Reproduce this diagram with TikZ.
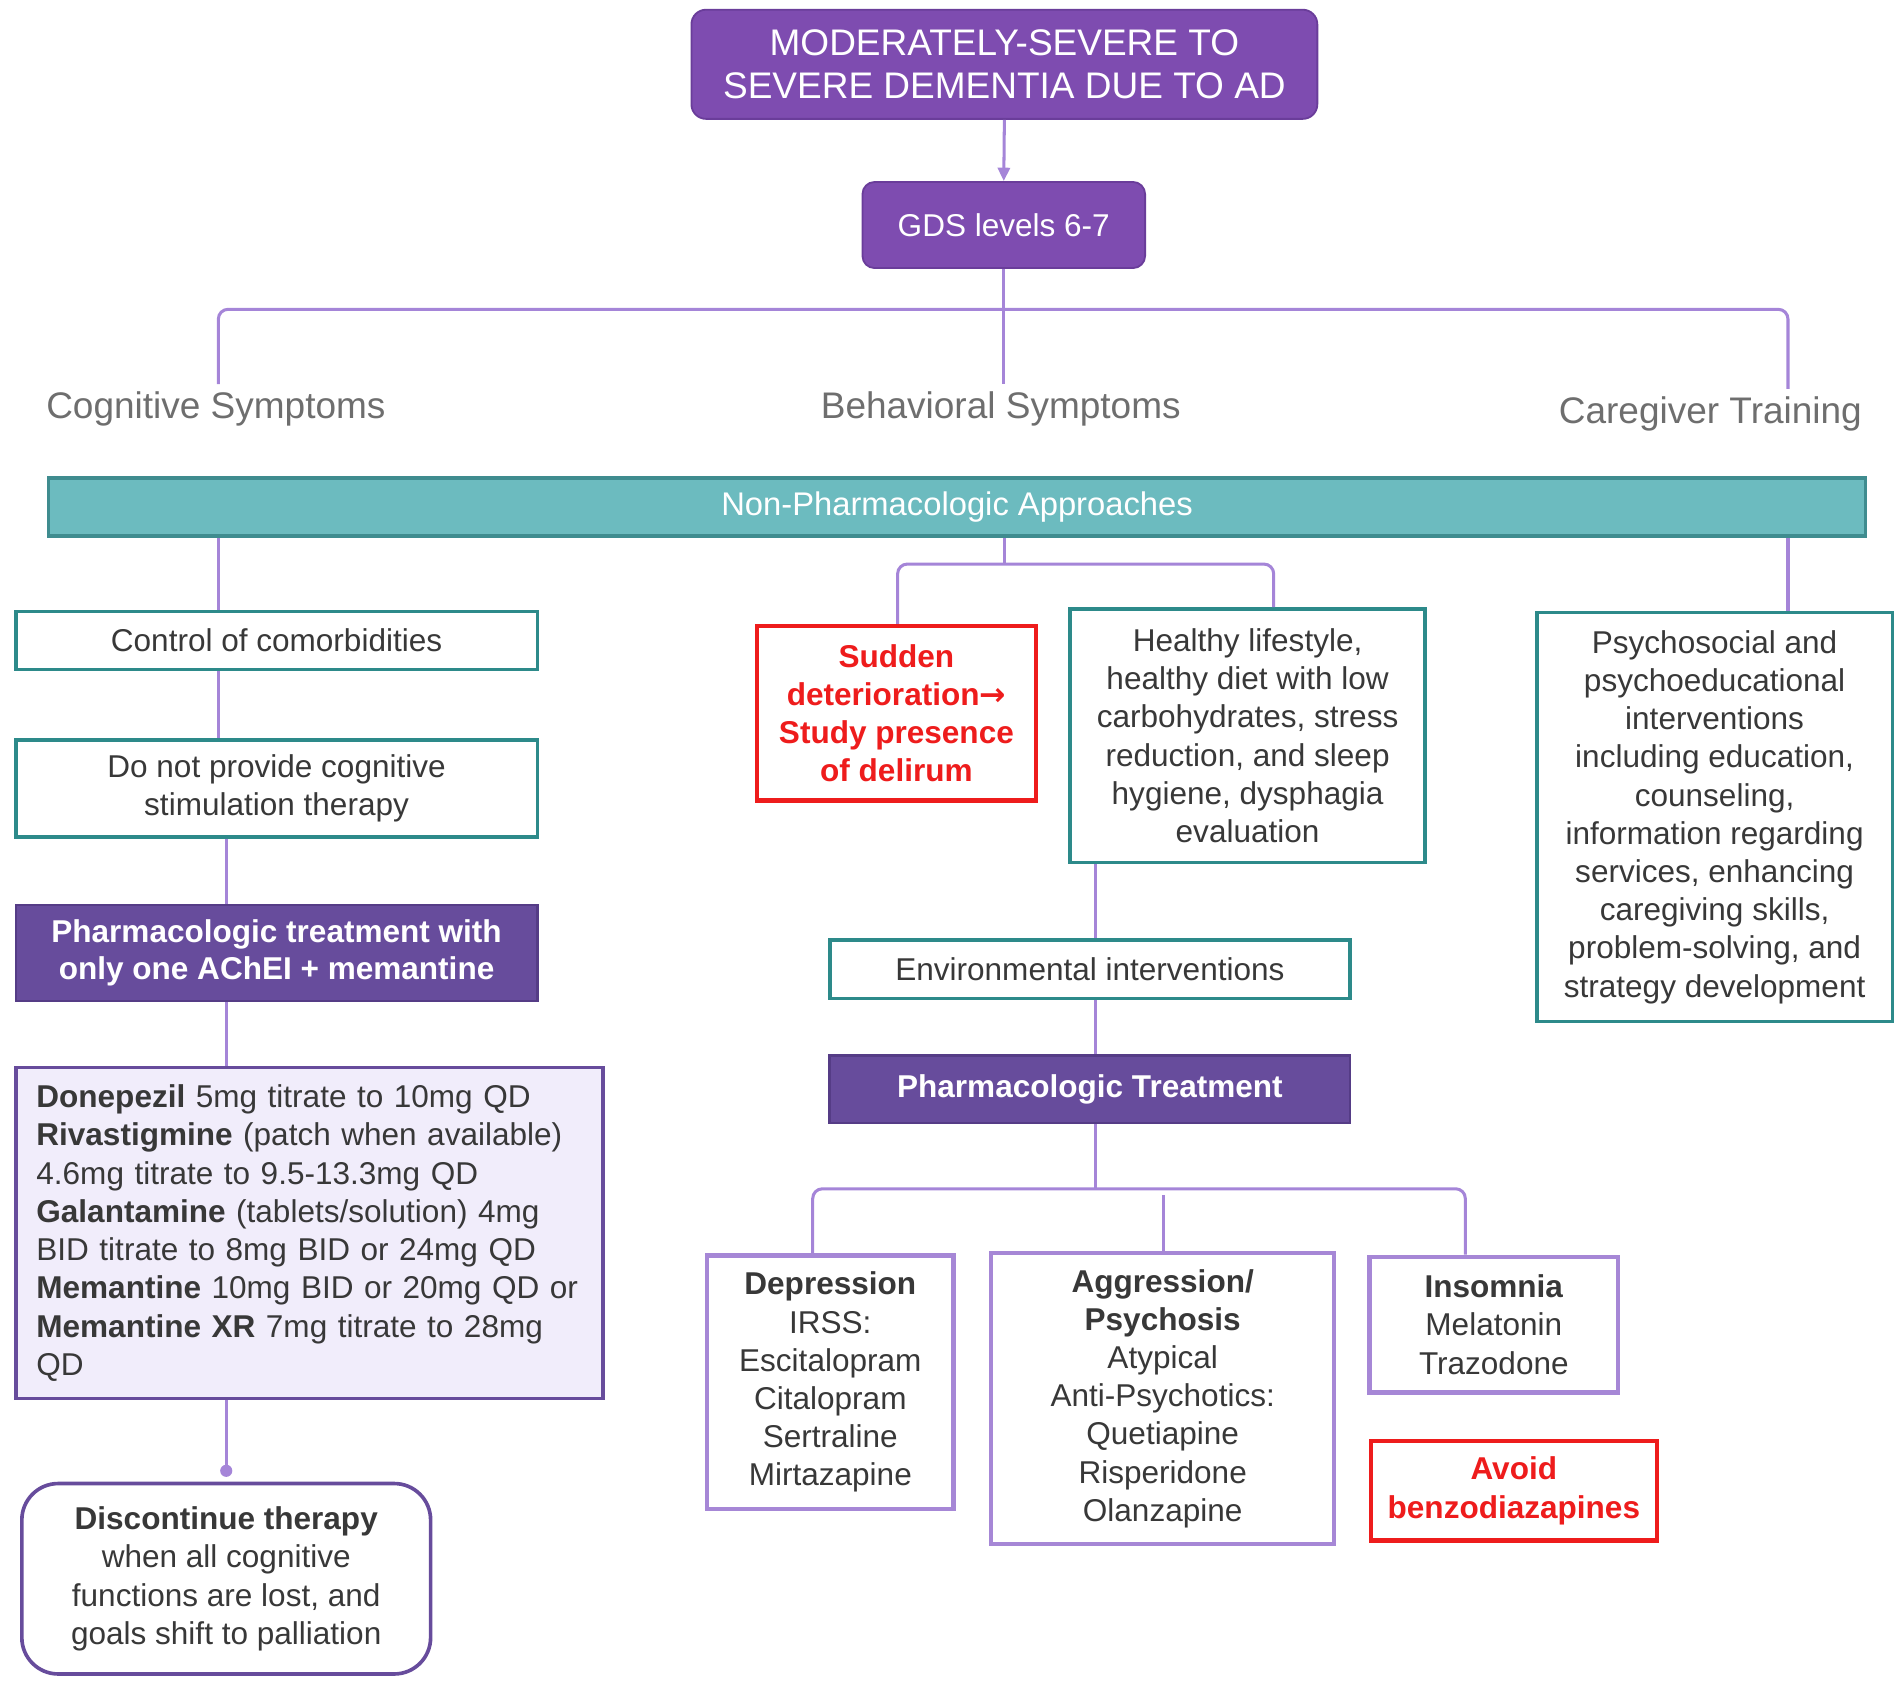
\documentclass[tikz,border=0pt]{standalone}
\usepackage{fontspec}
\setmainfont{Liberation Sans}
\newfontfamily\djv{DejaVu Sans}
\usetikzlibrary{arrows.meta}
\definecolor{toppurp}{HTML}{7E4CB0}
\definecolor{toppurpb}{HTML}{6A3D9A}
\definecolor{dpurp}{HTML}{674C9C}
\definecolor{dpurpb}{HTML}{553C86}
\definecolor{connc}{HTML}{A585D8}
\definecolor{lpurpb}{HTML}{A687D6}
\definecolor{tealfill}{HTML}{6CBBBF}
\definecolor{tealbar}{HTML}{3F8C8F}
\definecolor{tealb}{HTML}{2D8A8A}
\definecolor{redc}{HTML}{EE1C1C}
\definecolor{lav}{HTML}{F1EDFB}
\definecolor{graylab}{HTML}{6E6E6E}
\definecolor{txt}{HTML}{383838}
\begin{document}
\begin{tikzpicture}[x=1pt,y=-1pt,
  base/.style={inner sep=0pt, align=center, font=\fontsize{26}{31.5}\selectfont, text=txt},
  tealbox/.style={base, draw=tealb, line width=3pt, fill=white},
  purpbox/.style={base, draw=lpurpb, line width=3.5pt, fill=white},
  redbox/.style={base, draw=redc, line width=3.5pt, fill=white, text=redc, font=\fontsize{26}{31.5}\selectfont\bfseries},
  darkbox/.style={base, fill=dpurp, draw=dpurpb, line width=2pt, text=white, font=\fontsize{26}{30}\selectfont\bfseries},
  topbox/.style={base, fill=toppurp, draw=toppurpb, line width=1.5pt, text=white},
  lab/.style={inner sep=0pt, inner ysep=6pt, font=\fontsize{30.5}{36}\selectfont, text=graylab},
  conn/.style={draw=connc, line width=2.5pt, rounded corners=8pt}
]
\useasboundingbox (0,0) rectangle (1568,1390);

% top
\node[topbox, rounded corners=12pt, minimum width=516pt, minimum height=90pt,
  font=\fontsize{30.5}{36}\selectfont] (title) at (828,53)
  {MODERATELY-SEVERE TO\\SEVERE DEMENTIA DUE TO AD};
\node[topbox, rounded corners=10pt, minimum width=233pt, minimum height=71pt] (gds) at (827.5,185.5) {GDS levels 6-7};

% labels
\node[lab] (cog) at (178,337) {Cognitive Symptoms};
\node[lab] (beh) at (825,337) {Behavioral Symptoms};
\node[lab] (care) at (1410,341) {Caregiver Training};

% bar
\node[base, fill=tealfill, draw=tealbar, line width=3pt, minimum width=1498pt, minimum height=48pt,
  text=white, font=\fontsize{27}{31}\selectfont] (np) at (789,418) {\raisebox{-2pt}{Non-Pharmacologic Approaches}};

% left column
\node[tealbox, minimum width=430pt, minimum height=48pt] (ctrl) at (228,528) {Control of comorbidities};
\node[tealbox, minimum width=430pt, minimum height=80pt] (donot) at (228,650) {Do not provide cognitive\\stimulation therapy};
\node[darkbox, minimum width=430pt, minimum height=79pt] (pharmA) at (228,785.5) {Pharmacologic treatment with\\only one AChEI + memantine};
\node[base, fill=lav, draw=dpurp, line width=3pt, minimum width=484pt, minimum height=273pt,
  text width=450pt, align=left] (drugs) at (255,1016.5)
  {\textbf{Donepezil} 5mg titrate to 10mg QD\\
   \textbf{Rivastigmine} (patch when available)\\
   4.6mg titrate to 9.5-13.3mg QD\\
   \textbf{Galantamine} (tablets/solution) 4mg\\
   BID titrate to 8mg BID or 24mg QD\\
   \textbf{Memantine} 10mg BID or 20mg QD or\\
   \textbf{Memantine XR} 7mg titrate to 28mg\\
   QD};
\node[base, draw=dpurp, line width=3pt, fill=white, rounded corners=30pt, minimum width=337pt, minimum height=157pt] (disc) at (186.5,1301.5)
  {\textbf{Discontinue therapy}\\when all cognitive\\functions are lost, and\\goals shift to palliation};

% middle column
\node[redbox, minimum width=230pt, minimum height=144pt] (sudden) at (739,588)
  {Sudden\\deterioration{\djv\bfseries →}\\Study presence\\of delirum};
\node[tealbox, minimum width=293pt, minimum height=209pt] (healthy) at (1028.5,606.5)
  {Healthy lifestyle,\\healthy diet with low\\carbohydrates, stress\\reduction, and sleep\\hygiene, dysphagia\\evaluation};
\node[tealbox, minimum width=429pt, minimum height=48pt] (env) at (898.5,799) {Environmental interventions};
\node[darkbox, minimum width=429pt, minimum height=56pt] (pharmB) at (898.5,898) {Pharmacologic Treatment};

\node[purpbox, minimum width=203pt, minimum height=209pt] (dep) at (684.5,1139.5)
  {\textbf{Depression}\\IRSS:\\Escitalopram\\Citalopram\\Sertraline\\Mirtazapine};
\node[purpbox, minimum width=283pt, minimum height=240pt] (agg) at (958.5,1153)
  {\textbf{Aggression/}\\\textbf{Psychosis}\\Atypical\\Anti-Psychotics:\\Quetiapine\\Risperidone\\Olanzapine};
\node[purpbox, minimum width=205pt, minimum height=112pt] (ins) at (1231.5,1092)
  {\textbf{Insomnia}\\Melatonin\\Trazodone};
\node[redbox, minimum width=236pt, minimum height=82pt] (avoid) at (1248,1229)
  {Avoid\\benzodiazapines};

% right column
\node[tealbox, minimum width=293pt, minimum height=337pt] (psy) at (1413.5,673.5)
  {Psychosocial and\\psychoeducational\\interventions\\including education,\\counseling,\\information regarding\\services, enhancing\\caregiving skills,\\problem-solving, and\\strategy development};

% connectors
\draw[conn, -{Triangle[length=11pt,width=10pt]}, rounded corners=0pt] (title.south) -- (gds.north);
\coordinate (bus) at (828,255);
\coordinate (cogx) at (180,255);
\coordinate (carex) at (1474,255);
\draw[conn] (gds.south) -- (gds.south |- beh.north);
\draw[conn] (cogx |- cog.north) -- (cogx) -- (carex) -- (carex |- care.north);

\draw[conn] (np.south -| cogx) -- (ctrl.north -| cogx);
\coordinate (nbc) at (828,465);
\coordinate (nbl) at (740,465);
\coordinate (nbr) at (1050,465);
\draw[conn] (np.south -| nbc) -- (nbc);
\draw[conn] (sudden.north -| nbl) -- (nbl) -- (nbr) -- (healthy.north -| nbr);
\draw[conn] (np.south -| carex) -- (psy.north -| carex);

\draw[conn] (ctrl.south -| cogx) -- (donot.north -| cogx);
\coordinate (lax) at (187,700);
\draw[conn] (donot.south -| lax) -- (pharmA.north -| lax);
\draw[conn] (pharmA.south -| lax) -- (drugs.north -| lax);
\coordinate (dot) at ([yshift=9pt]disc.north);
\draw[conn] (drugs.south -| dot) -- (dot);
\fill[connc] (dot) circle (5pt);

\coordinate (max) at (903,700);
\draw[conn] (healthy.south -| max) -- (env.north -| max);
\draw[conn] (env.south -| max) -- (pharmB.north -| max);
\coordinate (tb) at (903,980);
\coordinate (tl) at (670,980);
\coordinate (tr) at (1208,980);
\coordinate (tm) at (959,985);
\draw[conn] (pharmB.south -| tb) -- (tb);
\draw[conn] (dep.north -| tl) -- (tl) -- (tr) -- (ins.north -| tr);
\draw[conn] (tm) -- (agg.north -| tm);
\end{tikzpicture}
\end{document}
